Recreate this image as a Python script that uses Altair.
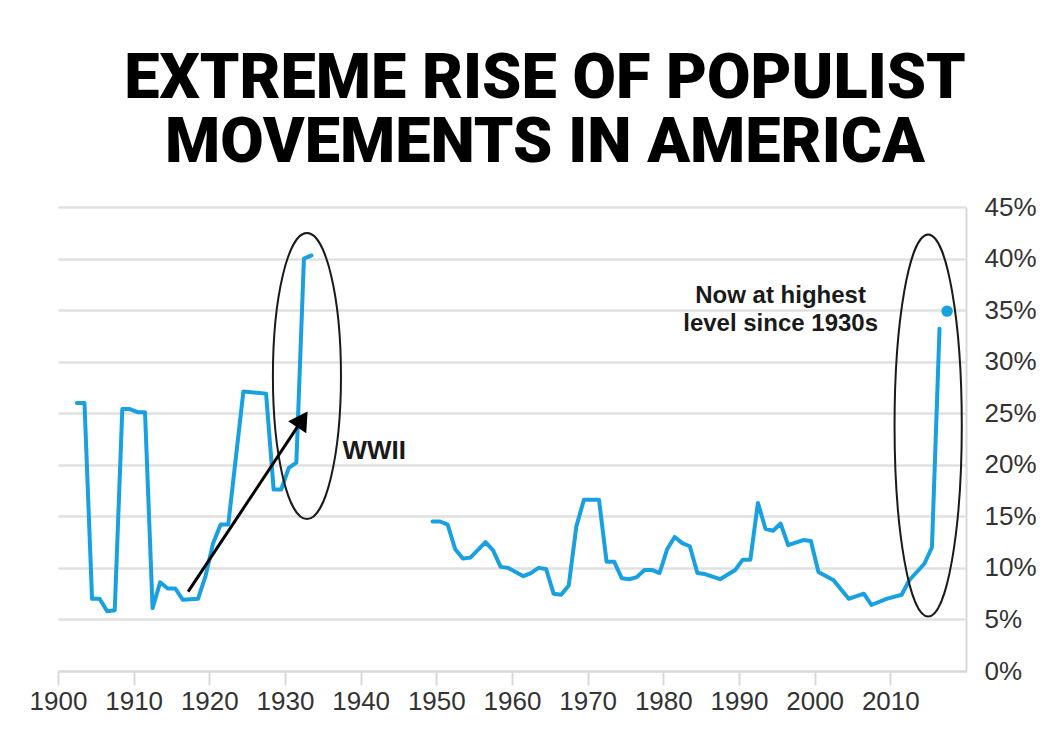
import altair as alt
import pandas as pd

# ---------------- data ----------------
title_lines = ["EXTREME RISE OF POPULIST", "MOVEMENTS IN AMERICA"]

years_a = [1902, 1903, 1904, 1905, 1906, 1907, 1908, 1909, 1910, 1911, 1912, 1913,
           1914, 1915, 1916, 1918, 1919, 1920, 1921, 1922, 1924, 1927, 1928, 1929,
           1930, 1931, 1932, 1933]
vals_a = [26.0, 26.0, 7.0, 7.0, 5.8, 5.9, 25.4, 25.4, 25.1, 25.1, 6.1, 8.6,
          8.0, 8.0, 6.9, 7.0, 9.2, 12.4, 14.2, 14.2, 27.1, 26.9, 17.6, 17.6,
          19.7, 20.2, 40.0, 40.3]

years_b = [1949, 1950, 1951, 1952, 1953, 1954, 1956, 1957, 1958, 1959, 1961, 1962,
           1963, 1964, 1965, 1966, 1967, 1968, 1969, 1971, 1972, 1973, 1974, 1975,
           1976, 1977, 1978, 1979, 1980, 1981, 1982, 1983, 1984, 1985, 1987, 1989,
           1990, 1991, 1992, 1993, 1994, 1995, 1996, 1998, 1999, 2000, 2002, 2004,
           2006, 2007, 2009, 2011, 2012, 2014, 2015, 2016]
vals_b = [14.5, 14.5, 14.2, 11.8, 10.9, 11.0, 12.5, 11.7, 10.1, 10.0, 9.2, 9.5,
          10.0, 9.9, 7.5, 7.4, 8.3, 14.0, 16.6, 16.6, 10.6, 10.6, 9.0, 8.9,
          9.1, 9.8, 9.8, 9.5, 11.8, 13.0, 12.4, 12.1, 9.5, 9.4, 8.9, 9.8,
          10.8, 10.8, 16.3, 13.8, 13.6, 14.3, 12.2, 12.7, 12.6, 9.6, 8.8, 7.0,
          7.5, 6.4, 7.0, 7.4, 8.8, 10.4, 12.0, 33.2]

dot_year = [2017]
dot_val = [34.9]

x_ticks = list(range(1900, 2011, 10))
y_ticks = list(range(0, 46, 5))

# annotations (data coordinates)
ellipse_centers_x = [1932.9, 2015.0]
ellipse_centers_y = [28.6, 23.8]
ellipse_ratio = [0.238, 0.176]
ellipse_half_height_px = [143, 191]

arrow_start = (1917.2, 7.7)
arrow_head = (1932.3, 24.4)
arrow_angle = 33.7

wwii_label = ("WWII", 1941.8, 21.3)
now_lines = ["Now at highest", "level since 1930s"]
now_x = 1995.5
now_y = [36.4, 33.7]

BLUE = "#18a0e0"

# ---------------- tables ----------------
line_df = pd.DataFrame({
    "year": years_a + years_b,
    "y": vals_a + vals_b,
    "seg": ["a"] * len(years_a) + ["b"] * len(years_b),
})
dot_df = pd.DataFrame({"year": dot_year, "y": dot_val})

xs = alt.Scale(domain=[1900, 2020], nice=False, zero=False)
ys = alt.Scale(domain=[0, 45], nice=False, zero=True)

x_axis = alt.Axis(values=x_ticks, format="d", grid=False, domainColor="#d9d9d9",
                  domainWidth=2, tickColor="#d9d9d9", tickWidth=2, tickSize=14,
                  labelFont="Liberation Sans", labelFontSize=26, labelColor="#333333",
                  labelPadding=3, labelFlush=False, labelOverlap=False)
y_axis = alt.Axis(orient="right", values=y_ticks, labelExpr="datum.value + '%'",
                  grid=True, gridColor="#e0e0e0", gridWidth=2.5, domainColor="#d9d9d9",
                  domainWidth=2, ticks=False, labelFont="Liberation Sans",
                  labelFontSize=26, labelColor="#333333", labelPadding=18,
                  labelAlign="left", labelFlush=False)

X = alt.X("x:Q", scale=xs, axis=x_axis, title=None)
Y = alt.Y("y:Q", scale=ys, axis=y_axis, title=None)

line = alt.Chart(line_df).transform_calculate(x="datum.year + 0.5").mark_line(
    color=BLUE, strokeWidth=4, strokeJoin="round", strokeCap="round"
).encode(x=X, y=Y, detail="seg:N")

dot = alt.Chart(dot_df).transform_calculate(x="datum.year + 0.5").mark_point(
    shape="circle", filled=True, color=BLUE, size=130, opacity=1
).encode(x=X, y=Y)


def ellipse_path(a):
    k = 0.5523
    return (f"M 0 -1 C {a*k:.4f} -1 {a:.4f} {-k} {a:.4f} 0 "
            f"C {a:.4f} {k} {a*k:.4f} 1 0 1 "
            f"C {-a*k:.4f} 1 {-a:.4f} {k} {-a:.4f} 0 "
            f"C {-a:.4f} {-k} {-a*k:.4f} -1 0 -1 Z")


ellipses = []
for cx, cy, r, h in zip(ellipse_centers_x, ellipse_centers_y, ellipse_ratio, ellipse_half_height_px):
    edf = pd.DataFrame({"x": [cx], "y": [cy]})
    ellipses.append(alt.Chart(edf).mark_point(
        shape=ellipse_path(r), size=(2 * h) ** 2, filled=False, stroke="#1a1a1a",
        strokeWidth=2, opacity=1
    ).encode(x=X, y=Y))

arrow_df = pd.DataFrame({"x": [arrow_start[0]], "y": [arrow_start[1]],
                         "x2": [arrow_head[0]], "y2": [arrow_head[1]]})
arrow_line = alt.Chart(arrow_df).mark_rule(color="black", strokeWidth=3).encode(
    x=X, y=Y, x2="x2:Q", y2="y2:Q")
head_df = pd.DataFrame({"x": [arrow_head[0]], "y": [arrow_head[1]]})
arrow_head_mark = alt.Chart(head_df).mark_point(
    shape="triangle-up", filled=True, color="black", size=470, angle=arrow_angle, opacity=1
).encode(x=X, y=Y)

wwii_df = pd.DataFrame({"x": [wwii_label[1]], "y": [wwii_label[2]], "t": [wwii_label[0]]})
wwii = alt.Chart(wwii_df).mark_text(
    font="Liberation Sans", fontWeight="bold", fontSize=26, color="#1a1a1a",
    align="center", baseline="middle"
).encode(x=X, y=Y, text="t:N")

now_df = pd.DataFrame({"x": [now_x, now_x], "y": now_y, "t": now_lines})
now_txt = alt.Chart(now_df).mark_text(
    font="Liberation Sans", fontWeight="bold", fontSize=24, color="#1a1a1a",
    align="center", baseline="middle"
).encode(x=X, y=Y, text="t:N")

chart = alt.layer(line, dot, *ellipses, arrow_line, arrow_head_mark, wwii, now_txt).properties(
    width=908, height=464,
    autosize="none",
    padding={"left": 50, "top": 199, "right": 90, "bottom": 60},
    background="white",
    title=alt.TitleParams(
        text=title_lines, font="Roboto", fontWeight=900, fontSize=63, color="black",
        anchor="middle", dx=33, dy=84, offset=40, lineHeight=64, baseline="bottom"
    ),
).configure_view(stroke=None)

chart.save("out.html", embed_options={"renderer": "svg", "actions": False})
